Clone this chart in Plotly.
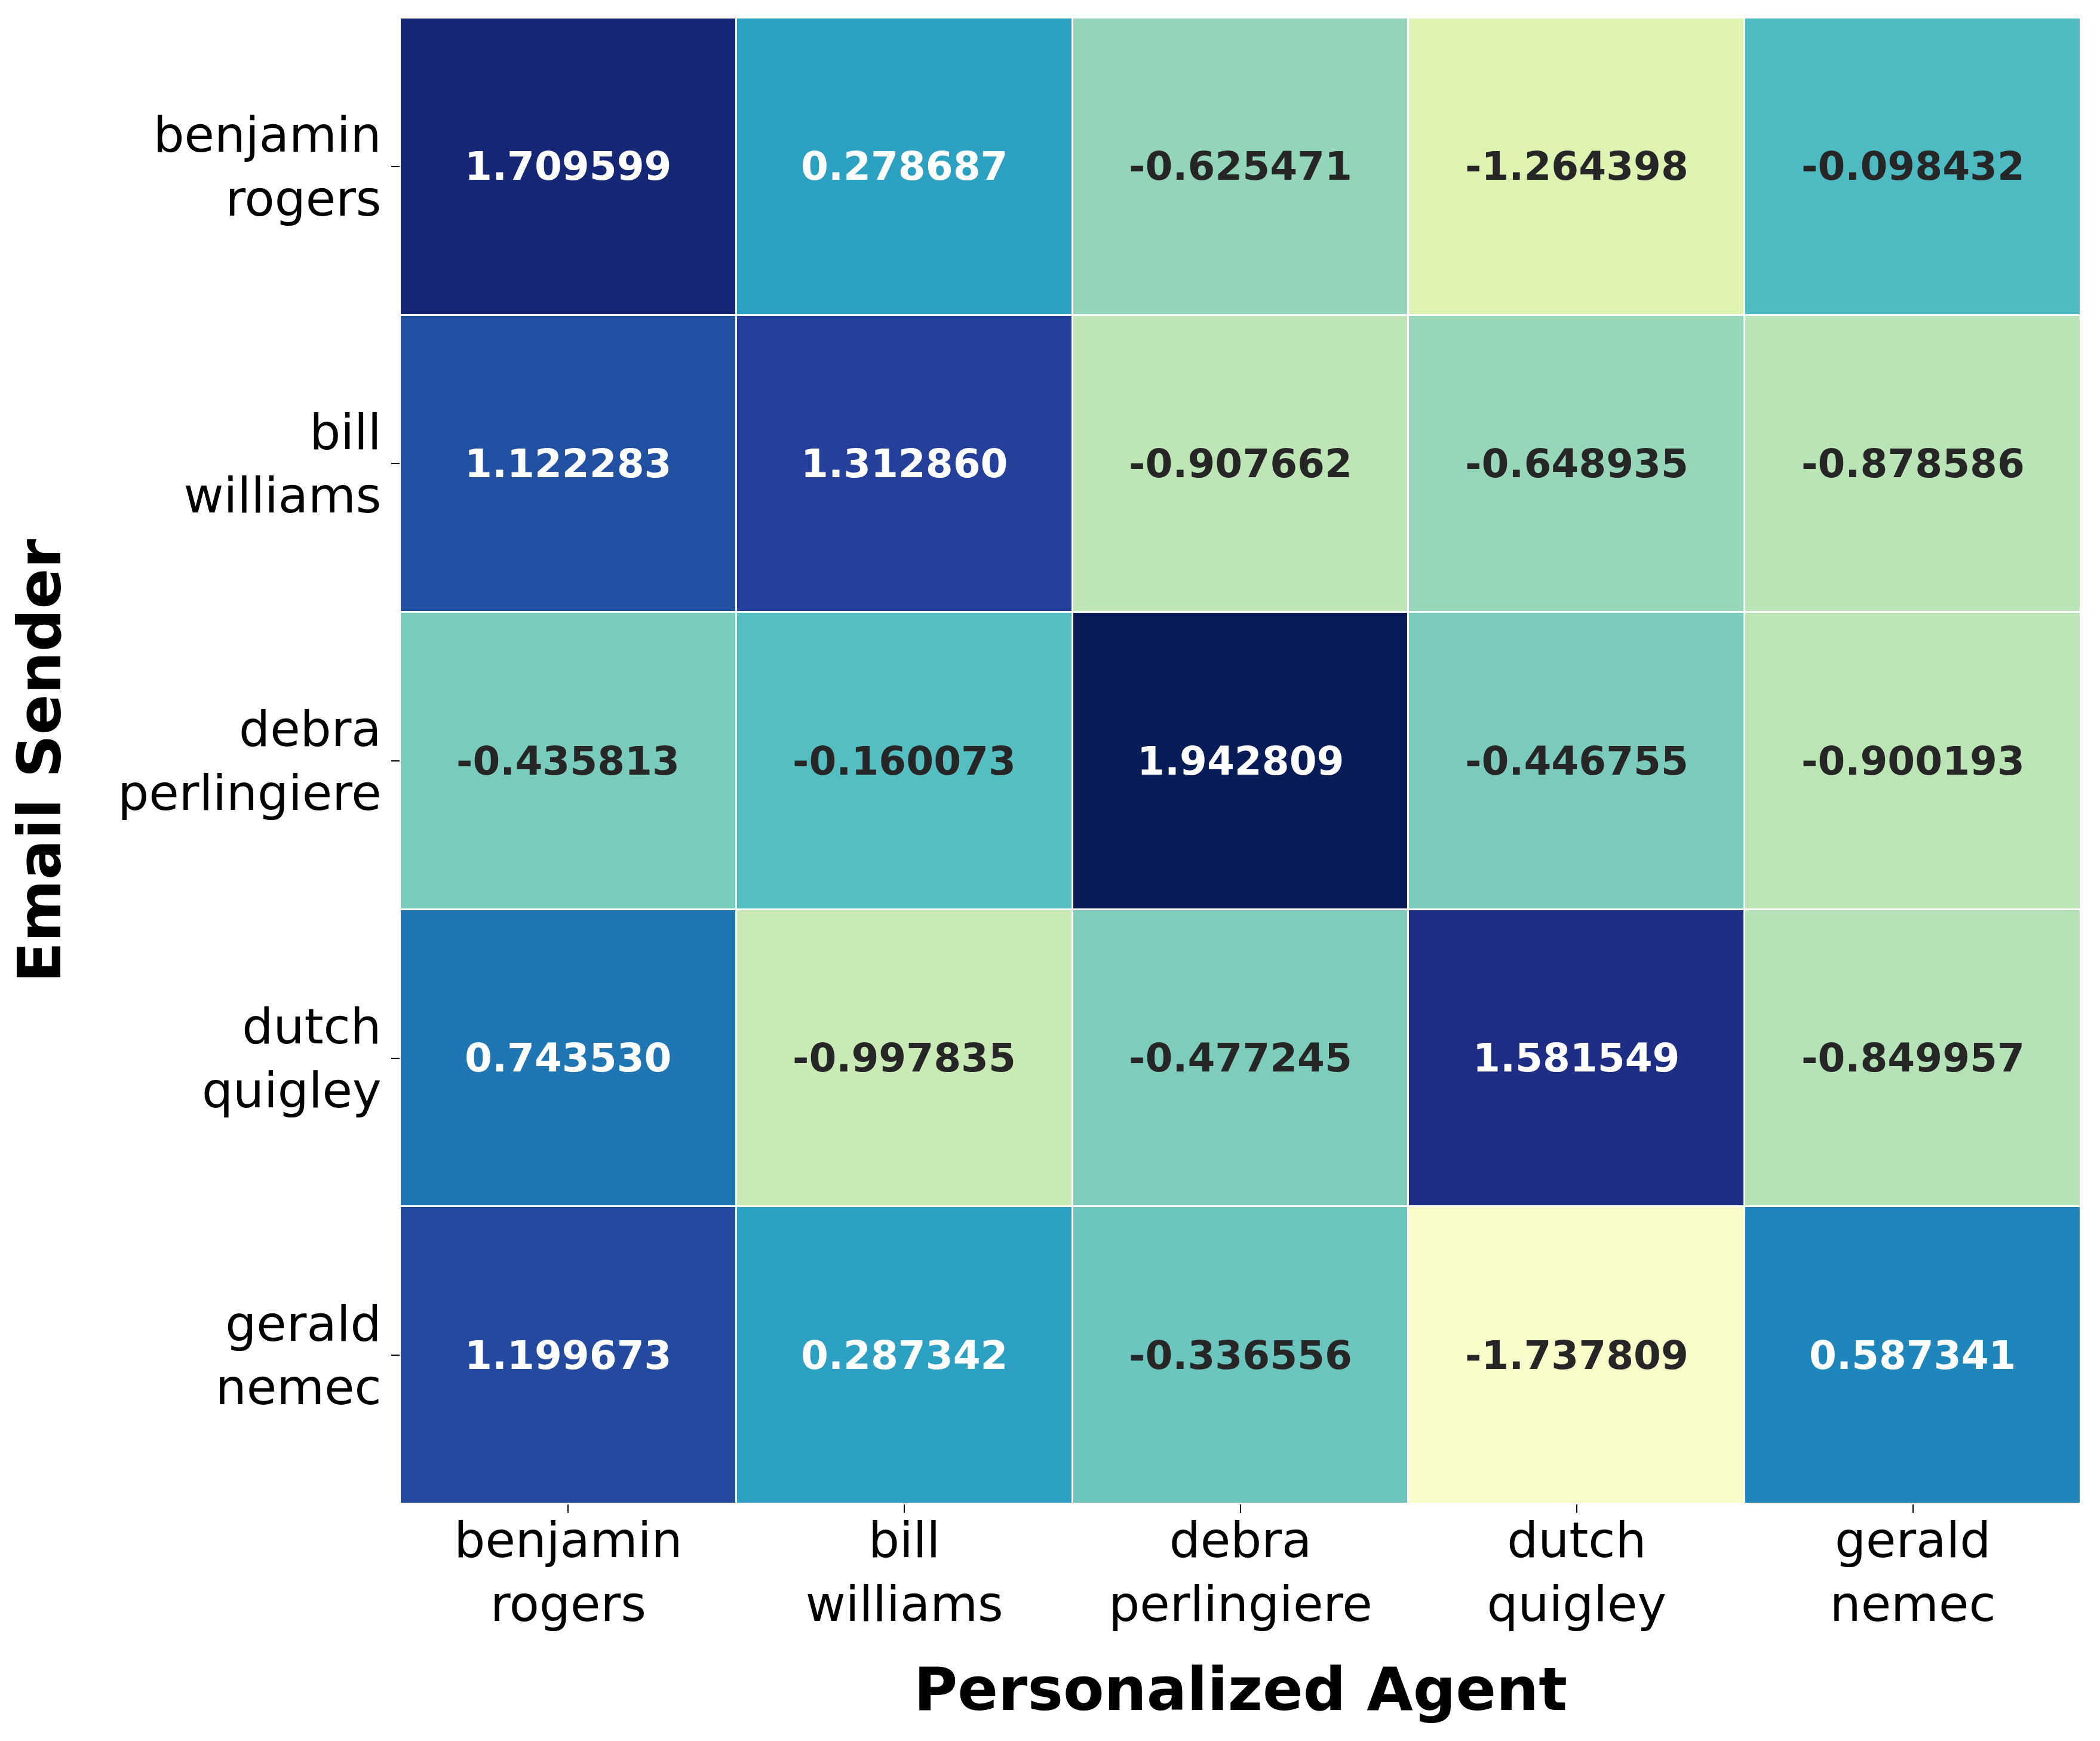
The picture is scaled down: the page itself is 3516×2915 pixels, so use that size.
import plotly.graph_objects as go
import plotly.colors as pc

agents = ["benjamin<br>rogers", "bill<br>williams", "debra<br>perlingiere", "dutch<br>quigley", "gerald<br>nemec"]
senders = ["benjamin<br>rogers", "bill<br>williams", "debra<br>perlingiere", "dutch<br>quigley", "gerald<br>nemec"]

row_benjamin = [1.709599, 0.278687, -0.625471, -1.264398, -0.098432]
row_bill = [1.122283, 1.312860, -0.907662, -0.648935, -0.878586]
row_debra = [-0.435813, -0.160073, 1.942809, -0.446755, -0.900193]
row_dutch = [0.743530, -0.997835, -0.477245, 1.581549, -0.849957]
row_gerald = [1.199673, 0.287342, -0.336556, -1.737809, 0.587341]

z = [row_benjamin, row_bill, row_debra, row_dutch, row_gerald]

ylgnbu = ["#ffffd9", "#edf8b1", "#c7e9b4", "#7fcdbb", "#41b6c4",
          "#1d91c0", "#225ea8", "#253494", "#081d58"]
colorscale = [[i / (len(ylgnbu) - 1), c] for i, c in enumerate(ylgnbu)]

vmax = max(abs(v) for r in z for v in r)
vmin = -vmax

FONT = "DejaVu Sans"

fig = go.Figure(go.Heatmap(
    z=z, x=agents, y=senders,
    colorscale=colorscale, zmin=vmin, zmax=vmax,
    showscale=False, xgap=3, ygap=3,
))


def lum(hexrgb):
    r, g, b = pc.hex_to_rgb(hexrgb)
    def f(c):
        c = c / 255
        return c / 12.92 if c <= 0.03928 else ((c + 0.055) / 1.055) ** 2.4
    return 0.2126 * f(r) + 0.7152 * f(g) + 0.0722 * f(b)


def color_at(v):
    t = (v - vmin) / (vmax - vmin)
    n = len(ylgnbu) - 1
    k = min(int(t * n), n - 1)
    frac = t * n - k
    c1 = pc.hex_to_rgb(ylgnbu[k])
    c2 = pc.hex_to_rgb(ylgnbu[k + 1])
    c = tuple(int(round(a + (b - a) * frac)) for a, b in zip(c1, c2))
    return "#%02x%02x%02x" % c


annotations = []
for i, row in enumerate(z):
    for j, v in enumerate(row):
        tc = "#262626" if lum(color_at(v)) > 0.408 else "#ffffff"
        annotations.append(dict(
            x=agents[j], y=senders[i], xref="x", yref="y",
            text=f"{v:.6f}", showarrow=False,
            font=dict(family=FONT, size=66, color=tc, weight="bold"),
        ))

fig.update_layout(
    width=3508, height=2907,
    margin=dict(l=662, r=32, t=22, b=397, autoexpand=False),
    paper_bgcolor="white", plot_bgcolor="white",
    font=dict(family=FONT, color="black"),
    annotations=annotations,
)
fig.update_xaxes(
    title=dict(text="Personalized Agent", font=dict(family=FONT, size=100, weight="bold"), standoff=60),
    tickfont=dict(family=FONT, size=82), ticks="outside", ticklen=14, tickwidth=2,
    tickcolor="black", showgrid=False, zeroline=False, showline=False,
    ticklabelstandoff=-24,
)
fig.update_yaxes(
    title=dict(text="Email Sender", font=dict(family=FONT, size=100, weight="bold"), standoff=73),
    tickfont=dict(family=FONT, size=82), ticks="outside", ticklen=14, tickwidth=2,
    tickcolor="black", showgrid=False, zeroline=False, showline=False,
    autorange="reversed",
)

fig.write_html("out.html")
